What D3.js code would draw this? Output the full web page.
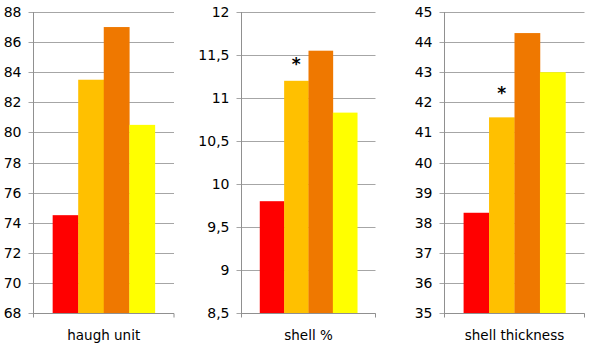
<!DOCTYPE html>
<html><head><meta charset="utf-8">
<script src="https://cdn.jsdelivr.net/npm/d3@7"></script>
<style>
html,body{margin:0;padding:0;background:#fff;}
svg{display:block;}
text{font-family:"DejaVu Sans",Verdana,sans-serif;fill:#000;}
</style></head>
<body>
<svg id="c" width="600" height="344"></svg>
<script>
const categories = ["haugh unit", "shell %", "shell thickness"];
const seriesNames = ["s1", "s2", "s3", "s4"];
const series1 = [74.5, 9.8, 38.33];
const series2 = [83.5, 11.2, 41.5];
const series3 = [87, 11.55, 44.3];
const series4 = [80.5, 10.83, 43.0];
const yMin = [68, 8.5, 35];
const yMax = [88, 12, 45];
const yStep = [2, 0.5, 1];
const starValues = [null, 11.43, 42.42];
const colors = ["#ff0000", "#ffc000", "#ef7800", "#ffff00"];

const layout = [
  {x0: 33.5, x1: 174},
  {x0: 241.5, x1: 375.5},
  {x0: 444.5, x1: 584.5}
];
const plotTop = 12, plotBottom = 313;
const svg = d3.select("#c");
const fmt = v => String(+v.toFixed(2)).replace(".", ",");

categories.forEach((cat, i) => {
  const L = layout[i];
  const g = svg.append("g");
  const y = d3.scaleLinear().domain([yMin[i], yMax[i]]).range([plotBottom, plotTop]);
  const ticks = d3.range(yMin[i], yMax[i] + yStep[i] / 2, yStep[i]);
  const x = d3.scaleBand().domain(seriesNames).range([L.x0, L.x1]).paddingInner(0).paddingOuter(0.75);
  const vals = [series1[i], series2[i], series3[i], series4[i]];

  g.selectAll("line.grid").data(ticks).join("line")
    .attr("x1", L.x0 - 5).attr("x2", L.x1)
    .attr("y1", d => Math.round(y(d)) + 0.5).attr("y2", d => Math.round(y(d)) + 0.5)
    .attr("stroke", "#a6a6a6").attr("stroke-width", 1);

  g.selectAll("rect").data(vals).join("rect")
    .attr("x", (d, j) => x(seriesNames[j]))
    .attr("width", x.bandwidth() + 0.3)
    .attr("y", d => y(d))
    .attr("height", d => y(yMin[i]) - y(d) + 0.5)
    .attr("fill", (d, j) => colors[j]);

  const by = Math.round(y(yMin[i])) + 0.5;
  g.append("line").attr("x1", L.x0).attr("x2", L.x0).attr("y1", plotTop).attr("y2", by + 4)
    .attr("stroke", "#909090");
  g.append("line").attr("x1", L.x0).attr("x2", L.x1).attr("y1", by).attr("y2", by)
    .attr("stroke", "#909090");
  g.append("line").attr("x1", L.x1).attr("x2", L.x1).attr("y1", by).attr("y2", by + 4)
    .attr("stroke", "#909090");

  g.selectAll("text.tick").data(ticks).join("text")
    .attr("x", L.x0 - 12).attr("y", d => y(d) + 5)
    .attr("text-anchor", "end").attr("font-size", "14px")
    .text(d => fmt(d));

  g.append("text").attr("x", (L.x0 + L.x1) / 2).attr("y", 340)
    .attr("text-anchor", "middle").attr("font-size", "13.5px").text(cat);

  if (starValues[i] != null) {
    g.append("text")
      .attr("x", x(seriesNames[1]) + x.bandwidth() / 2)
      .attr("y", y(starValues[i]) + 9)
      .attr("text-anchor", "middle").attr("font-size", "17px").attr("font-weight", "bold")
      .text("*");
  }
});
</script>
</body></html>
